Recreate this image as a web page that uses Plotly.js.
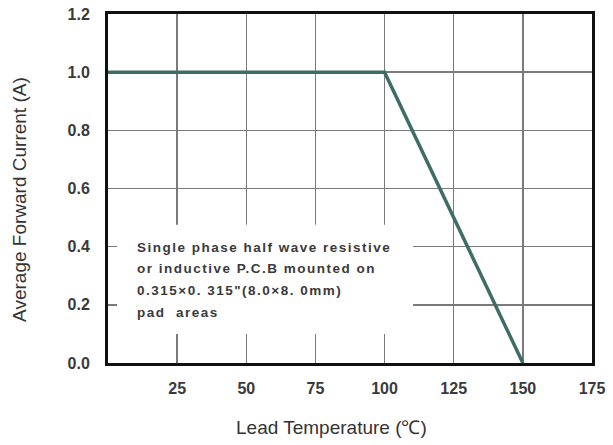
<!DOCTYPE html>
<html>
<head>
<meta charset="utf-8">
<script src="https://cdn.plot.ly/plotly-3.0.1.min.js"></script>
<style>
html,body{margin:0;padding:0;background:#fff;}
#chart{width:613px;height:445px;}
.note-text .annotation-text{letter-spacing:1.5px;}
</style>
</head>
<body>
<div id="chart"></div>
<script>
// Data
const temperature = [0, 100, 150];
const current = [1.0, 1.0, 0.0];
const xTickVals = [25, 50, 75, 100, 125, 150, 175];
const yTickVals = [0.0, 0.2, 0.4, 0.6, 0.8, 1.0, 1.2];
const noteLines = [
  "Single phase half wave resistive",
  "or inductive P.C.B mounted on",
  "0.315×0. 315\"(8.0×8. 0mm)",
  "pad  areas"
];
const noteY = [0.398, 0.325, 0.249, 0.174];

const trace = {
  x: temperature, y: current, type: 'scatter', mode: 'lines',
  line: {color: '#3e6d67', width: 3.5}, hoverinfo: 'skip', showlegend: false
};

const tickFont = {family: 'Liberation Sans, Arial, sans-serif', size: 16, color: '#3a3a3a', weight: 'bold'};

const annotations = noteLines.map((t, i) => ({
  text: t, x: 9.8, y: noteY[i], xref: 'x', yref: 'y', xanchor: 'left', yanchor: 'middle',
  showarrow: false, align: 'left',
  font: {family: 'Liberation Sans, Arial, sans-serif', size: 13.5, color: '#3a3a3a', weight: 'bold'}
}));
annotations.push({
  text: 'Lead Temperature (℃)', xref: 'paper', yref: 'paper', x: 0.462, y: -0.185,
  xanchor: 'center', yanchor: 'middle', showarrow: false,
  font: {family: 'Liberation Sans, Arial, sans-serif', size: 19, color: '#333'}
});
annotations.push({
  text: 'Average Forward Current (A)', xref: 'paper', yref: 'paper', x: -0.182, y: 0.47,
  xanchor: 'center', yanchor: 'middle', showarrow: false, textangle: -90,
  font: {family: 'Liberation Sans, Arial, sans-serif', size: 19, color: '#333'}
});

const layout = {
  width: 613, height: 445,
  margin: {l: 108, r: 21, t: 14, b: 82},
  paper_bgcolor: '#fff', plot_bgcolor: '#fff',
  xaxis: {
    range: [0, 175], tickvals: xTickVals, ticktext: xTickVals.map(String),
    showgrid: true, gridcolor: '#7a7a7a', gridwidth: 1.5,
    showline: true, linecolor: '#111', linewidth: 3, mirror: true,
    ticks: '', ticklabelstandoff: 9, tickfont: tickFont, zeroline: false, fixedrange: true
  },
  yaxis: {
    range: [0, 1.2], tickvals: yTickVals, ticktext: yTickVals.map(v => v.toFixed(1)),
    showgrid: true, gridcolor: '#7a7a7a', gridwidth: 1.5,
    showline: true, linecolor: '#111', linewidth: 3, mirror: true,
    ticks: '', ticklabelstandoff: 12, tickfont: tickFont, zeroline: false, fixedrange: true
  },
  shapes: [{
    type: 'rect', xref: 'x', yref: 'y', x0: 3.3, x1: 110.3, y0: 0.10, y1: 0.475,
    fillcolor: '#fff', line: {width: 0}, layer: 'between'
  }],
  annotations: annotations
};

Plotly.newPlot('chart', [trace], layout, {displayModeBar: false, staticPlot: true}).then(() => {
  document.querySelectorAll('.annotation').forEach((g, i) => { if (i < noteLines.length) g.classList.add('note-text'); });
});
</script>
</body>
</html>
